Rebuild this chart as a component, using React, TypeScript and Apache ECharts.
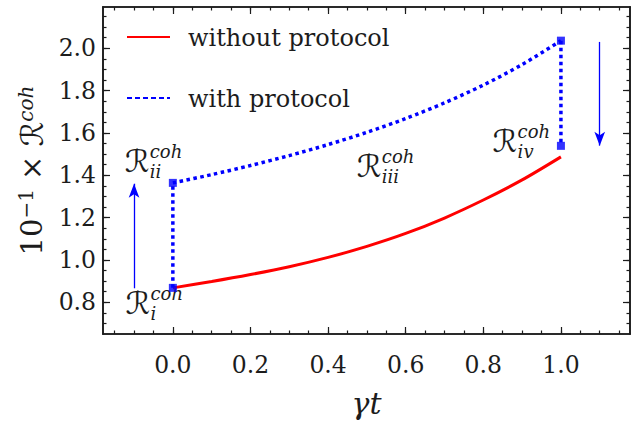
import React, { useEffect, useRef } from "react";
import * as echarts from "echarts";

// γt samples along the two evolutions
const gammaT = [0, 0.1, 0.2, 0.3, 0.4, 0.5, 0.6, 0.7, 0.8, 0.9, 1.0];
// 10^-1 × R^coh without the protocol
const withoutProtocol = [0.868, 0.898, 0.931, 0.968, 1.012, 1.064, 1.125, 1.198, 1.283, 1.378, 1.487];
// 10^-1 × R^coh with the protocol
const withProtocol = [1.364, 1.403, 1.446, 1.493, 1.545, 1.603, 1.668, 1.742, 1.826, 1.923, 2.036];
// value reached after the last step at γt = 1
const finalStep = 1.539;

const X_MIN = -0.18;
const X_MAX = 1.178;
const Y_MIN = 0.65;
const Y_MAX = 2.195;

const xMajorTicks = [0, 0.2, 0.4, 0.6, 0.8, 1.0];
const xMinorTicks = [
  -0.15, -0.1, -0.05, 0, 0.05, 0.1, 0.15, 0.2, 0.25, 0.3, 0.35, 0.4, 0.45, 0.5,
  0.55, 0.6, 0.65, 0.7, 0.75, 0.8, 0.85, 0.9, 0.95, 1.0, 1.05, 1.1, 1.15,
];
const yMajorTicks = [0.8, 1.0, 1.2, 1.4, 1.6, 1.8, 2.0];
const yMinorTicks = [
  0.7, 0.75, 0.8, 0.85, 0.9, 0.95, 1.0, 1.05, 1.1, 1.15, 1.2, 1.25, 1.3, 1.35,
  1.4, 1.45, 1.5, 1.55, 1.6, 1.65, 1.7, 1.75, 1.8, 1.85, 1.9, 1.95, 2.0, 2.05,
  2.1, 2.15,
];

const legendItems = [
  { label: "without protocol", color: "#ff0000", dash: null as number[] | null },
  { label: "with protocol", color: "#0000ff", dash: [5, 3] },
];

// stage labels R_i ... R_iv, anchored at the left/baseline of the ℛ
const stageLabels = [
  { sub: "i", x: -0.122, y: 0.725 },
  { sub: "ii", x: -0.124, y: 1.395 },
  { sub: "iii", x: 0.474, y: 1.372 },
  { sub: "iv", x: 0.824, y: 1.49 },
];

// arrows marking the direction of the steps
const arrows = [
  { x: -0.1, from: 0.866, to: 1.36 },
  { x: 1.1, from: 2.03, to: 1.54 },
];

const SERIF = "DejaVu Serif";
const SCRIPT = "DejaVu Sans";
const INK = "#1c1c1c";
const RED = "#ff0000";
const BLUE = "#0000ff";

function xAxis(position: string, ticks: number[], len: number, withLabels: boolean, name?: string) {
  return {
    type: "value",
    position,
    min: X_MIN,
    max: X_MAX,
    name: name || "",
    nameLocation: "middle",
    nameGap: 54,
    nameTextStyle: { fontFamily: SERIF, fontStyle: "italic", fontSize: 30, color: INK },
    axisLine: { show: true, onZero: false, lineStyle: { color: INK, width: 1.6 } },
    axisTick: { show: true, inside: true, length: len, customValues: ticks, lineStyle: { color: INK, width: 1.2 } },
    axisLabel: withLabels
      ? { show: true, customValues: ticks, formatter: (v: number) => v.toFixed(1), fontFamily: SERIF, fontSize: 23.5, color: INK, margin: 19 }
      : { show: false },
    splitLine: { show: false },
    minorTick: { show: false },
  };
}

function yAxis(position: string, ticks: number[], len: number, withLabels: boolean, name?: string) {
  return {
    type: "value",
    position,
    min: Y_MIN,
    max: Y_MAX,
    name: name || "",
    nameLocation: "middle",
    nameGap: 56,
    nameTextStyle: {
      color: INK,
      rich: {
        n: { fontFamily: SERIF, fontSize: 29, color: INK },
        s: { fontFamily: SERIF, fontSize: 20, color: INK, verticalAlign: "top" },
        r: { fontFamily: SCRIPT, fontSize: 31, color: INK },
        c: { fontFamily: SERIF, fontStyle: "italic", fontSize: 20, color: INK, verticalAlign: "top" },
      },
    },
    axisLine: { show: true, onZero: false, lineStyle: { color: INK, width: 1.6 } },
    axisTick: { show: true, inside: true, length: len, customValues: ticks, lineStyle: { color: INK, width: 1.2 } },
    axisLabel: withLabels
      ? { show: true, customValues: ticks, formatter: (v: number) => v.toFixed(1), fontFamily: SERIF, fontSize: 23.5, color: INK, margin: 7 }
      : { show: false },
    splitLine: { show: false },
    minorTick: { show: false },
  };
}

export default function App() {
  const ref = useRef<HTMLDivElement>(null);

  useEffect(() => {
    if (!ref.current) return;
    const chart = echarts.init(ref.current, null, { renderer: "svg" });

    const last = withProtocol.length - 1;
    const dotted = { color: BLUE, width: 3.5, type: [3.5, 3.5] };
    const option: any = {
      animation: false,
      backgroundColor: "#ffffff",
      grid: { left: 103, right: 8, top: 7, bottom: 88, outerBoundsMode: "none", containLabel: false },
      xAxis: [
        xAxis("bottom", xMajorTicks, 7, true, "γt"),
        xAxis("bottom", xMinorTicks, 3.5, false),
        xAxis("top", xMajorTicks, 7, false),
        xAxis("top", xMinorTicks, 3.5, false),
      ],
      yAxis: [
        yAxis("left", yMajorTicks, 7, true, "{n|10}{s|−1}{n| × }{r|ℛ}{c|coh}"),
        yAxis("left", yMinorTicks, 3.5, false),
        yAxis("right", yMajorTicks, 7, false),
        yAxis("right", yMinorTicks, 3.5, false),
      ],
      series: [
        {
          name: "without protocol",
          type: "line",
          data: gammaT.map((t, i) => [t, withoutProtocol[i]]),
          smooth: 0.3,
          symbol: "none",
          lineStyle: { color: RED, width: 3 },
          itemStyle: { color: RED },
          z: 3,
        },
        {
          name: "with protocol",
          type: "line",
          data: gammaT.map((t, i) => [t, withProtocol[i]]),
          smooth: 0.3,
          symbol: "none",
          lineStyle: dotted,
          itemStyle: { color: BLUE },
          z: 3,
        },
        {
          type: "line",
          data: [
            [gammaT[0], withoutProtocol[0]],
            [gammaT[0], withProtocol[0]],
          ],
          symbol: "none",
          lineStyle: dotted,
          z: 3,
        },
        {
          type: "line",
          data: [
            [gammaT[last], withProtocol[last]],
            [gammaT[last], finalStep],
          ],
          symbol: "none",
          lineStyle: dotted,
          z: 3,
        },
        {
          type: "scatter",
          data: [
            [gammaT[0], withoutProtocol[0]],
            [gammaT[0], withProtocol[0]],
            [gammaT[last], withProtocol[last]],
            [gammaT[last], finalStep],
          ],
          symbol: "rect",
          symbolSize: 8,
          itemStyle: { color: BLUE },
          z: 4,
          markLine: {
            silent: true,
            animation: false,
            label: { show: false },
            lineStyle: { color: BLUE, width: 1.3, type: "solid" },
            data: arrows.map((a) => [
              { coord: [a.x, a.from], symbol: "none" },
              { coord: [a.x, a.to], symbol: "arrow", symbolSize: [8, 14] },
            ]),
          },
        },
      ],
    };
    chart.setOption(option);

    const graphic: any[] = [];
    // legend
    legendItems.forEach((item, i) => {
      const y = 37 + i * 61;
      graphic.push({
        type: "line",
        shape: { x1: 127, y1: y, x2: 170, y2: y },
        style: { stroke: item.color, lineWidth: 2, lineDash: item.dash || undefined },
      });
      graphic.push({
        type: "text",
        x: 188,
        y: y + 1,
        style: { text: item.label, fontFamily: SERIF, fontSize: 24, fill: INK, align: "left", verticalAlign: "middle" },
      });
    });
    // stage labels: ℛ with the "coh" superscript and the stage subscript
    stageLabels.forEach((s) => {
      const p = chart.convertToPixel({ seriesIndex: 0 }, [s.x, s.y]) as number[];
      graphic.push({
        type: "text",
        x: p[0],
        y: p[1],
        style: { text: "ℛ", fontFamily: SCRIPT, fontSize: 31, fill: INK, align: "left", verticalAlign: "bottom" },
      });
      graphic.push({
        type: "text",
        x: p[0] + 25,
        y: p[1] - 16,
        style: { text: "coh", fontFamily: SERIF, fontStyle: "italic", fontSize: 18, fill: INK, align: "left", verticalAlign: "bottom" },
      });
      graphic.push({
        type: "text",
        x: p[0] + 25,
        y: p[1] + 4,
        style: { text: s.sub, fontFamily: SERIF, fontStyle: "italic", fontSize: 18, fill: INK, align: "left", verticalAlign: "bottom" },
      });
    });
    chart.setOption({ graphic });

    return () => chart.dispose();
  }, []);

  return (
    <div
      ref={ref}
      style={{ position: "fixed", left: 0, top: 0, width: 638, height: 422, background: "#fff" }}
    />
  );
}
